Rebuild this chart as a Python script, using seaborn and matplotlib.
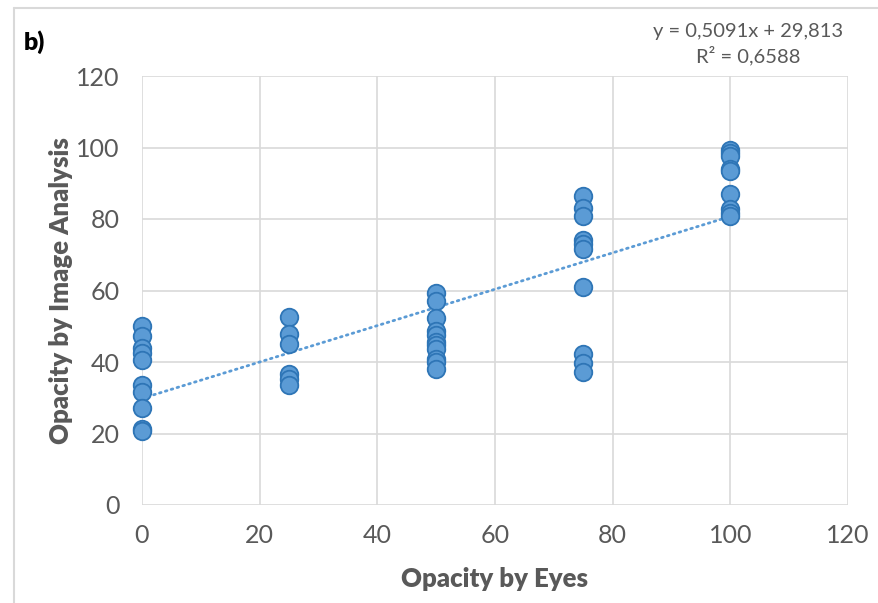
import matplotlib
matplotlib.use("Agg")
import matplotlib.pyplot as plt
import numpy as np
import pandas as pd
import seaborn as sns

# Opacity scored by eye (x) versus opacity measured by image analysis (y)
image_0 = [50.2, 47.4, 43.8, 42.6, 40.6, 33.6, 31.6, 27.2, 21.2, 20.8]
image_25 = [52.7, 47.9, 44.9, 36.6, 35.2, 33.7]
image_50 = [59.2, 57.0, 52.4, 48.6, 47.6, 45.7, 44.8, 43.6, 40.7, 40.0, 38.0]
image_75 = [86.3, 83.0, 80.8, 74.0, 73.0, 71.5, 61.0, 42.3, 39.7, 37.2]
image_100 = [99.2, 98.4, 97.6, 94.1, 93.5, 87.0, 82.8, 81.6, 80.8]
eye_scores = [0, 25, 50, 75, 100]

# Linear trendline coefficients as printed on the chart
slope = 0.5091
intercept = 29.813
r_squared = 0.6588

x_ticks = [0, 20, 40, 60, 80, 100, 120]
y_ticks = [0, 20, 40, 60, 80, 100, 120]

groups = dict(zip(eye_scores, [image_0, image_25, image_50, image_75, image_100]))
df = pd.DataFrame(
    [(k, v) for k, vals in groups.items() for v in vals],
    columns=["eyes", "image"],
)

sns.set_theme(style="white")
plt.rcParams["font.family"] = ["Lato", "DejaVu Sans"]

fig = plt.figure(figsize=(8.79, 6.03), dpi=100)
ax = fig.add_axes([142 / 879, 1 - 505 / 603, (848 - 142) / 879, (505 - 76) / 603])

grid_c = "#d9d9d9"
text_c = "#595959"
fill_c = "#5b9bd5"
edge_c = "#2e75b6"

# Trendline across the observed x range
tx = np.array([0, 100])
ax.plot(tx, slope * tx + intercept, color=fill_c, lw=2.0,
        linestyle=(0, (0.6, 1.6)), dash_capstyle="round", zorder=2)

sns.scatterplot(data=df, x="eyes", y="image", ax=ax, s=160,
                color=fill_c, edgecolor=edge_c, linewidth=1.3, zorder=3,
                clip_on=False)

ax.set_xlim(0, 120)
ax.set_ylim(0, 120)
ax.set_xticks(x_ticks)
ax.set_yticks(y_ticks)
ax.grid(True, color=grid_c, lw=1.2)
ax.set_axisbelow(True)
for s in ax.spines.values():
    s.set_visible(False)
ax.tick_params(axis="both", length=0, labelsize=18, labelcolor=text_c, pad=14)
ax.tick_params(axis="y", pad=16)

ax.set_xlabel("Opacity by Eyes", fontsize=18.5, fontweight="heavy", color=text_c, labelpad=14)
ax.set_ylabel("Opacity by Image Analysis", fontsize=18.5, fontweight="heavy", color=text_c, labelpad=2)

fig.text(748 / 879, 1 - 31 / 603,
         f"y = {slope:.4f}x + {intercept:.3f}".replace(".", ","),
         ha="center", va="center", fontsize=14.5, color=text_c)
fig.text(748 / 879, 1 - 56 / 603,
         f"R² = {r_squared:.4f}".replace(".", ","),
         ha="center", va="center", fontsize=14.5, color=text_c)
fig.text(24 / 879, 1 - 42 / 603, "b)", ha="left", va="center",
         fontsize=18, fontweight="heavy", color="black")

# Light frame around the chart area
fig.add_artist(plt.Line2D([14 / 879, 14 / 879], [0, 1 - 8 / 603],
                          transform=fig.transFigure, color=grid_c, lw=1.5))
fig.add_artist(plt.Line2D([14 / 879, 1], [1 - 8 / 603, 1 - 8 / 603],
                          transform=fig.transFigure, color=grid_c, lw=1.5))

fig.savefig("out.png", dpi=100, facecolor="white")
